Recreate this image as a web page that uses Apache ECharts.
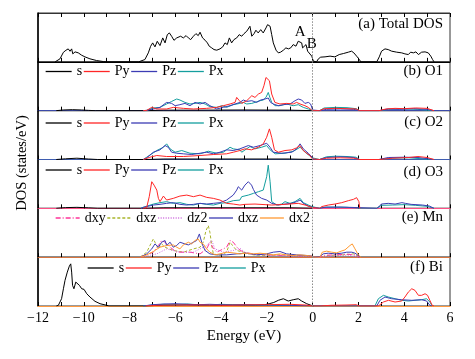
<!DOCTYPE html>
<html><head><meta charset="utf-8">
<script src="https://cdn.jsdelivr.net/npm/echarts@6/dist/echarts.min.js"></script>
<style>html,body{margin:0;padding:0;background:#fff}#c{width:475px;height:359px}</style>
</head><body><div id="c"></div>
<script>
// ---------- data (energy in eV, DOS in arbitrary states/eV units) ----------
const xTicks = [-12,-10,-8,-6,-4,-2,0,2,4,6];
const panelLabels = ['(a) Total DOS','(b) O1','(c) O2','(d) O3','(e) Mn','(f) Bi'];
const oLegend = ['s','Py','Pz','Px'];
const mnLegend = ['dxy','dxz','dz2','dxz ','dx2'];

const totalDOS = [[-11.25,0],[-11.18,0.3],[-11.04,3],[-10.89,9.6],[-10.78,11.6],[-10.68,13],[-10.6,10.6],[-10.53,13],[-10.48,8],[-10.38,10],[-10.24,9],[-10.09,6.6],[-9.95,5],[-9.73,3],[-9.44,1.3],[-9.15,0.3],[-9.0,0],
[-7.6,0],[-7.33,2.3],[-7.18,9],[-7.08,15.6],[-6.99,19],[-6.89,15],[-6.79,20.6],[-6.67,16.3],[-6.55,24],[-6.45,19],[-6.35,27.3],[-6.26,29],[-6.16,25.6],[-6.06,21.6],[-5.94,24],[-5.87,23],[-5.77,25.7],[-5.65,24],[-5.53,26.3],[-5.43,24],[-5.33,22.3],[-5.21,25.7],[-5.1,28.3],[-5.0,26.3],[-4.92,29.7],[-4.81,24],[-4.7,21.7],[-4.6,19],[-4.52,15.7],[-4.41,14],[-4.31,12.3],[-4.19,11.7],[-4.12,9.7],[-4.05,13],[-3.93,15],[-3.83,19],[-3.73,17.3],[-3.64,24],[-3.54,19],[-3.44,22.3],[-3.32,24],[-3.21,27.3],[-3.1,25.7],[-3.0,28.3],[-2.88,30.7],[-2.81,32.3],[-2.74,35.7],[-2.66,25.7],[-2.56,28.3],[-2.48,31.7],[-2.38,29],[-2.27,32.3],[-2.16,29],[-2.04,34],[-1.97,37.3],[-1.91,39],[-1.86,35.7],[-1.79,27.3],[-1.72,19],[-1.6,11.7],[-1.5,9],[-1.4,9.7],[-1.28,11.7],[-1.17,14],[-1.06,13],[-0.96,14],[-0.85,17.3],[-0.73,15.7],[-0.63,20.7],[-0.55,21.7],[-0.48,19],[-0.44,14],[-0.37,12.3],[-0.29,17.3],[-0.22,10.7],[-0.15,9],[-0.04,5.7],[0.03,0.7],[0.1,0],
[0.17,0],[0.25,3],[0.35,4.7],[0.54,5],[0.76,5.7],[0.97,5],[1.16,7.3],[1.34,8.3],[1.56,9.7],[1.7,10.7],[1.8,9],[1.92,5.7],[2.04,2.3],[2.1,0],[2.8,0],[2.91,5],[3.01,10.7],[3.16,13],[3.3,12.3],[3.45,10.7],[3.67,9.7],[3.89,9],[4.03,8],[4.18,7.3],[4.28,9.7],[4.4,9],[4.51,10],[4.62,7.3],[4.76,9.7],[4.91,10],[5.05,9],[5.16,5.7],[5.24,2.3],[5.3,0]];
const markA = [-0.55,30];
const markB = [-0.04,18];

// O1
const o1_s  = [[-11.2,0],[-10.9,0.7],[-10.5,1],[-10.1,0.7],[-9.8,0.3],[-9.5,0],[-7.3,0],[-6.5,0.5],[-5,0.5],[-3,0.7],[-1,0.5],[0,0]];
const o1_py = [[-7.4,0],[-7.25,0.3],[-7.03,3.3],[-6.82,1.7],[-6.38,1.7],[-6.09,3.3],[-5.65,2.3],[-5.21,1.7],[-4.63,2.3],[-4.19,3.3],[-3.9,5],[-3.61,6.7],[-3.39,8.3],[-3.32,13.3],[-3.2,10],[-3.1,7.3],[-2.88,10],[-2.66,15],[-2.52,13.3],[-2.37,16.7],[-2.23,18.3],[-2.13,25],[-2.04,33.3],[-1.98,35],[-1.89,30],[-1.79,16.7],[-1.65,8.3],[-1.43,6.7],[-1.14,7.3],[-0.85,6.7],[-0.7,8.3],[-0.55,6.7],[-0.34,5],[-0.19,3.3],[-0.05,0.7],[0.05,0],
[0.3,0],[0.5,2],[1.0,2.3],[1.5,2],[1.9,1.7],[2.05,0],[2.9,0],[3.2,1.7],[3.6,2.3],[4.0,2],[4.5,2.7],[5.0,2.3],[5.3,0]];
const o1_pz = [[-7.4,0],[-7.25,0.3],[-6.96,1.7],[-6.67,3.3],[-6.38,8.3],[-6.16,7.3],[-6.01,5],[-5.8,6],[-5.58,7.3],[-5.36,5],[-5.14,8.3],[-4.92,6.7],[-4.7,8.3],[-4.49,5],[-4.19,1.7],[-3.9,3.3],[-3.61,5],[-3.39,6.7],[-3.18,8.3],[-3.03,10.7],[-2.88,9.3],[-2.66,10],[-2.45,8.3],[-2.27,10.7],[-2.08,11.7],[-1.94,12.7],[-1.84,8.3],[-1.72,6.7],[-1.5,5],[-1.28,6],[-0.99,6.7],[-0.77,10],[-0.63,11.7],[-0.48,10.7],[-0.34,7.3],[-0.19,8.3],[-0.09,6.7],[0.0,0.7],[0.05,0],
[0.3,0],[0.6,1.3],[1.2,1.7],[1.8,1.3],[2.05,0],[2.9,0],[3.3,1.7],[3.8,1.3],[4.4,2],[5.0,1.3],[5.3,0]];
const o1_px = [[-7.4,0],[-7.25,0.3],[-6.96,2.7],[-6.67,3.3],[-6.38,6.7],[-6.16,9.3],[-5.94,11.7],[-5.8,10.7],[-5.58,8.3],[-5.36,6.7],[-5.14,7.3],[-4.92,8.3],[-4.7,6.7],[-4.49,4],[-4.19,3.3],[-3.97,5],[-3.76,3.3],[-3.47,6],[-3.18,7.3],[-3.03,8.3],[-2.88,6.7],[-2.66,7.3],[-2.52,8.3],[-2.3,10],[-2.16,10.7],[-2.04,13.3],[-1.94,18.3],[-1.87,13.3],[-1.79,8.3],[-1.65,5],[-1.43,5],[-1.14,6.7],[-0.85,5],[-0.63,6],[-0.41,3.3],[-0.19,1.7],[-0.05,0.7],[0.05,0],
[0.3,0],[0.5,2.7],[1.0,3.3],[1.5,3],[1.9,2],[2.05,0],[2.9,0],[3.3,1.3],[4.0,1.7],[4.6,1.3],[5.3,0]];

// O2
const o2_s  = [[-11.2,0],[-10.8,0.7],[-10.3,1.3],[-9.8,0.5],[-9.4,0],[-7.3,0],[-6.5,0.5],[-4,0.5],[-1,0.5],[0,0]];
const o2_py = [[-7.4,0],[-7.11,2.3],[-6.81,4],[-6.38,3],[-5.65,3],[-4.92,4],[-4.34,5],[-3.76,5.7],[-3.47,7.3],[-3.18,9],[-3.1,9.7],[-2.96,10.7],[-2.67,9.7],[-2.37,12.3],[-2.16,15.7],[-2.01,22.3],[-1.89,30.7],[-1.79,22.3],[-1.67,9.7],[-1.5,7.3],[-1.21,9],[-0.91,9.7],[-0.7,11.7],[-0.55,14],[-0.41,9],[-0.26,6.3],[-0.12,4],[-0.02,0.7],[0.05,0],
[0.3,0],[0.6,1.3],[1.2,1.7],[1.8,1.3],[2.05,0],[2.9,0],[3.5,1.3],[4.2,2],[4.6,3],[5.0,2],[5.3,0]];
const o2_pz = [[-7.4,0],[-7.25,1.7],[-6.96,7.3],[-6.67,9.7],[-6.45,14],[-6.31,12.3],[-6.16,7.3],[-5.94,6.3],[-5.65,5.7],[-5.28,5],[-4.92,6.3],[-4.63,7.3],[-4.34,5.7],[-4.05,7.3],[-3.76,9.7],[-3.47,9],[-3.18,10.7],[-3.1,9],[-2.81,14],[-2.59,12.3],[-2.3,14],[-2.01,16.3],[-1.86,12.3],[-1.72,7.3],[-1.35,6.3],[-0.91,7.3],[-0.7,10.7],[-0.55,15.7],[-0.41,10.7],[-0.19,6.3],[-0.02,2.3],[0.05,0],
[0.3,0],[0.6,2],[1.2,2.7],[1.8,2],[2.05,0],[2.9,0],[3.3,2],[4.0,2.3],[4.6,2],[5.3,0]];
const o2_px = [[-7.4,0],[-7.25,2.3],[-7.03,5.7],[-6.81,9],[-6.52,12.3],[-6.38,15.7],[-6.23,10.7],[-6.01,7.3],[-5.72,9],[-5.36,6.3],[-4.92,5.7],[-4.56,8.3],[-4.19,6.3],[-3.9,7.3],[-3.61,12.3],[-3.47,10.7],[-3.18,9.7],[-3.1,7.3],[-2.74,13],[-2.52,10.7],[-2.23,12.3],[-2.01,14],[-1.86,9.7],[-1.64,5.7],[-1.21,6.3],[-0.84,8.3],[-0.55,12.3],[-0.33,7.3],[-0.02,1.7],[0.05,0],
[0.3,0],[0.6,2.7],[1.0,3.3],[1.5,3],[1.9,2.3],[2.05,0],[2.9,0],[3.4,1.3],[4.2,1.7],[5.2,0]];

// O3
const o3_s  = [[-11.2,0],[-10.8,0.7],[-10.3,1],[-9.8,0.5],[-9.4,0],[-7.3,0],[-6.5,0.5],[-4,0.5],[-1,0.5],[0,0]];
const o3_py = [[-7.4,0],[-7.25,1],[-7.14,11.7],[-7.03,26.7],[-6.93,23.3],[-6.81,18.3],[-6.74,10],[-6.67,6.7],[-6.52,12.3],[-6.38,8.3],[-6.09,10],[-5.8,12.3],[-5.5,13.3],[-5.21,11.7],[-4.92,13.3],[-4.63,11],[-4.34,10],[-4.05,8.3],[-3.76,5],[-3.47,4.3],[-3.18,3.3],[-2.96,4],[-2.52,4.3],[-2.08,3.7],[-1.79,3.3],[-1.21,4],[-0.63,5],[-0.33,3.3],[-0.02,0.7],[0.05,0],
[0.3,0],[0.39,1.7],[0.68,3.3],[0.97,4.3],[1.27,5.7],[1.56,7.7],[1.78,9],[1.92,10.7],[2.02,6.7],[2.06,0]];
const o3_pz = [[-7.5,0],[-7.4,1],[-6.96,3.3],[-6.67,4],[-6.38,5],[-6.09,5.7],[-5.8,4],[-5.5,3.3],[-5.21,4],[-4.92,5],[-4.63,4.3],[-4.34,5],[-4.05,5.7],[-3.76,8.3],[-3.47,13.3],[-3.32,18.3],[-3.25,21.7],[-3.1,18.3],[-2.96,23.3],[-2.81,26.7],[-2.74,28.3],[-2.67,23.3],[-2.59,19],[-2.45,13.3],[-2.23,10],[-2.01,8.3],[-1.79,5],[-1.5,3.3],[-1.21,4.3],[-0.91,5],[-0.7,6.7],[-0.55,8.3],[-0.41,5],[-0.19,2.3],[-0.02,1],[0.05,0],
[0.3,0],[0.5,1],[1.2,1.3],[2.0,0.7],[2.05,0],[2.8,0],[2.9,1.7],[3.0,4.3],[3.3,5],[3.6,4.3],[3.9,5.7],[4.05,5],[4.3,4],[4.8,3.3],[5.1,2.3],[5.3,0]];
const o3_px = [[-7.5,0],[-7.4,1],[-6.96,4.3],[-6.67,5.7],[-6.38,6.7],[-6.09,5],[-5.8,5.7],[-5.5,4],[-5.21,3.3],[-4.92,5],[-4.63,4],[-4.34,3.3],[-4.05,5],[-3.76,5.7],[-3.47,7.7],[-3.18,8.3],[-3.1,11.7],[-2.81,13.3],[-2.59,15],[-2.37,16.7],[-2.16,18.3],[-2.01,31.7],[-1.94,43.3],[-1.86,26.7],[-1.79,6.7],[-1.57,3.3],[-1.35,4.3],[-1.21,6.7],[-0.99,5],[-0.77,6.7],[-0.55,10],[-0.41,5.7],[-0.19,3.3],[-0.02,1.7],[0.05,0],
[0.3,0],[0.6,1.3],[1.5,1],[2.05,0],[2.8,0],[3.0,3],[3.5,3.3],[4.0,3.7],[4.5,3],[5.0,2],[5.3,0]];

// Mn
const mn_dxy = [[-7.54,0],[-6.96,5],[-6.74,11.7],[-6.6,16.7],[-6.45,15],[-6.23,10],[-5.94,5],[-5.36,5],[-4.92,3.3],[-4.63,8.3],[-4.49,15],[-4.37,10],[-4.19,5],[-3.76,10],[-3.61,16.7],[-3.47,15],[-3.25,8.3],[-3.03,5],[-2.59,3.3],[-2.01,2.3],[-1.43,1.7],[-0.05,1],[0.05,0],
[0.3,0],[0.6,2],[1.0,2.3],[1.5,3],[1.9,2],[2.05,0]];
const mn_dxz = [[-7.54,0],[-7.25,5],[-7.11,11.7],[-6.96,18.3],[-6.89,15],[-6.74,8.3],[-6.6,13.3],[-6.45,10],[-6.09,6.7],[-5.65,5],[-5.21,8.3],[-4.92,10],[-4.78,15],[-4.66,26.7],[-4.56,31.7],[-4.49,25],[-4.41,11.7],[-4.34,3.3],[-4.05,1.7],[-3.76,5],[-3.61,15],[-3.5,11.7],[-3.32,6.7],[-3.03,5],[-2.59,2.3],[-2.01,1.7],[-1.43,2.3],[-0.85,1.7],[-0.05,1],[0.05,0],
[0.3,0],[0.7,1.7],[1.3,2.3],[1.8,3.3],[2.05,0]];
const mn_dz2 = [[-7.54,0],[-6.81,3.3],[-6.38,8.3],[-5.8,5],[-5.21,5],[-4.63,11.7],[-4.41,16.7],[-4.27,8.3],[-3.9,5],[-3.47,6.7],[-3.18,9],[-2.88,3.3],[-2.3,2.3],[-1.72,1.7],[-0.05,1],[0.05,0],
[0.3,0],[0.8,1.3],[1.6,2],[2.05,0]];
const mn_dxz2 = [[-7.54,0],[-7.25,3.3],[-7.03,8.3],[-6.89,13.3],[-6.74,10],[-6.6,15],[-6.45,16.7],[-6.38,11.7],[-6.23,15],[-6.09,10],[-5.94,11.7],[-5.8,15],[-5.58,13.3],[-5.43,12.3],[-5.21,15],[-5.07,16.7],[-4.95,23.3],[-4.89,18.3],[-4.81,12.3],[-4.7,6.7],[-4.49,3.3],[-4.19,2.3],[-3.76,2.3],[-3.32,3.3],[-2.88,4],[-2.45,2.3],[-2.01,3.3],[-1.72,5],[-1.43,5.7],[-1.14,3.3],[-0.7,2.3],[-0.27,1.7],[-0.05,1],[0.05,0],
[0.32,0.7],[0.46,3.3],[0.68,4],[0.97,3.3],[1.27,4],[1.49,5],[1.71,5],[1.85,4],[2.0,1.7],[2.06,0]];
const mn_dx2 = [[-7.54,0],[-7.25,2.3],[-6.96,5.7],[-6.67,10],[-6.38,11.7],[-6.09,12.3],[-5.94,10],[-5.8,8.3],[-5.65,12.3],[-5.43,15],[-5.29,13.3],[-5.14,16.7],[-5.0,18.3],[-4.92,15],[-4.78,13.3],[-4.63,8.3],[-4.49,5],[-4.27,2.3],[-4.05,3.3],[-3.76,5],[-3.47,4.3],[-3.18,3.3],[-2.88,4],[-2.59,3.3],[-2.3,4],[-2.01,3.3],[-1.72,2.3],[-1.43,3.3],[-1.14,2.3],[-0.85,1.7],[-0.55,2.3],[-0.27,1.7],[-0.05,1],[0.05,0],
[0.32,0],[0.42,5],[0.61,6],[0.83,5],[1.05,4.3],[1.24,6],[1.41,7.3],[1.63,11.7],[1.73,13.3],[1.85,8.3],[1.97,3.3],[2.06,0.7],[2.1,0]];

// Bi
const bi_s  = [[-11.2,0],[-11.11,0.7],[-10.97,7.3],[-10.89,17.3],[-10.82,25.7],[-10.72,34],[-10.63,40],[-10.57,42.3],[-10.53,34],[-10.49,20.7],[-10.43,17.3],[-10.35,24],[-10.28,22.3],[-10.19,20.7],[-10.09,17.3],[-9.99,16.7],[-9.87,12.3],[-9.73,9],[-9.51,4.7],[-9.29,2.3],[-9.0,0.7],[-8.9,0],
[-7.3,0],[-6.5,1],[-5.5,1.3],[-4.5,0.7],[-3.5,1],[-2.5,0.7],[-2.1,1.3],[-1.9,2.3],[-1.7,3.5],[-1.5,5.7],[-1.28,7.3],[-1.07,5],[-0.85,6.3],[-0.63,7.3],[-0.48,5],[-0.26,2.3],[-0.07,0.7],[0.05,0]];
const bi_py = [[-7.3,0],[-6.8,0.7],[-6,1],[-5,1],[-4,0.7],[-3,1],[-2,1.3],[-1,1.7],[-0.3,1],[0,0],
[0.3,0],[0.8,0.7],[1.5,1],[1.9,1.3],[2.05,0],[2.87,0],[3.09,4],[3.31,5.7],[3.6,4],[3.89,5],[4.03,9],[4.18,14],[4.33,17.3],[4.47,15.7],[4.62,10.7],[4.76,10.7],[4.91,12.3],[5.02,10.7],[5.12,5.7],[5.22,0.7],[5.3,0]];
const bi_pz = [[-7.4,0],[-7,1.3],[-6.5,2],[-6,2.3],[-5.5,1.7],[-5,1.3],[-4.5,1.7],[-4,1.3],[-3.5,1],[-3,1.3],[-2,1],[-1,0.7],[0,0],
[2.8,0],[2.94,5.7],[3.16,9],[3.45,7.3],[3.89,6.3],[4.33,5.7],[4.76,6.3],[4.98,5],[5.12,0.7],[5.2,0]];
const bi_px = [[-7.4,0],[-7,1],[-6.5,1.7],[-6,1.3],[-5.5,2],[-5,1.3],[-4.5,1],[-4,1.7],[-3.5,1.3],[-3,1],[-2,0.7],[0,0],
[2.72,0],[2.87,7.3],[3.09,10.7],[3.31,9],[3.6,7.3],[3.89,5.7],[4.18,5],[4.47,5.7],[4.76,6.3],[4.98,7.3],[5.12,4],[5.22,0]];

// ---------- chart ----------
const FONT = 'Liberation Serif';
const C = {s:'#000000', Py:'#ff2626', Pz:'#3c3cb4', Px:'#149e9e',
           dxy:'#ff3399', dxz:'#a9b52c', dz2:'#cc66dd', dxz2:'#3c3cb4', dx2:'#ff9a33'};
const baseColors = ['#000000','#3c4aa8','#3f5db0','#ff4f86','#d8743e','#ff9a40'];
const N = 6, TOP = 13, BOTTOM = 306, H = (BOTTOM - TOP) / N;
const LEFT = 38, RIGHT = 450, W = 475;

const grids = [], xAxes = [], yAxes = [], series = [];
for (let i = 0; i < N; i++) {
  grids.push({left: LEFT, right: W - RIGHT, top: TOP + i * H, height: H,
              show: true, borderColor: '#333', borderWidth: 1});
  const last = i === N - 1;
  xAxes.push({type: 'value', gridIndex: i, min: -12, max: 6, interval: 1,
    axisLine: {show: true, onZero: false, lineStyle: {color: baseColors[i], width: 1.2}},
    axisTick: {show: true, inside: true, length: 4, lineStyle: {color: '#000'}},
    splitLine: {show: false},
    axisLabel: {show: last, margin: 5, color: '#000', fontFamily: FONT, fontSize: 14,
      formatter: v => (xTicks.indexOf(v) < 0 ? '' : (v < 0 ? '\u2212' + (-v) : String(v)))},
    name: last ? 'Energy (eV)' : '', nameLocation: 'middle', nameGap: 23,
    nameTextStyle: {color: '#000', fontFamily: FONT, fontSize: 15}});
  yAxes.push({type: 'value', gridIndex: i, min: 0, max: 49,
    axisLine: {show: true, onZero: false, lineStyle: {color: '#000', width: 1.5}},
    axisTick: {show: false}, axisLabel: {show: false}, splitLine: {show: false}});
}
// top tick axis of panel (a)
xAxes.push({type: 'value', gridIndex: 0, position: 'top', min: -12, max: 6, interval: 1,
  axisLine: {show: true, onZero: false, lineStyle: {color: '#333'}},
  axisTick: {show: true, inside: true, length: 4, lineStyle: {color: '#000'}},
  axisLabel: {show: false}, splitLine: {show: false}});

function line(name, data, gi, color, dash, extra) {
  const s = {name, type: 'line', xAxisIndex: gi, yAxisIndex: gi, data,
    symbol: 'none', showSymbol: false, smooth: false, animation: false,
    lineStyle: {color, width: 1, type: dash || 'solid'}, itemStyle: {color, opacity: 0}};
  return Object.assign(s, extra || {});
}
const zeroLine = {silent: true, symbol: 'none', animation: false,
  label: {show: false}, lineStyle: {color: '#8c8c8c', type: [1.5, 1.5], width: 1},
  data: [{xAxis: 0}]};

series.push(line('Total', totalDOS, 0, '#000', null, {
  markLine: zeroLine,
  markPoint: {symbol: 'circle', symbolSize: 1, itemStyle: {color: 'rgba(0,0,0,0)'},
    label: {show: true, position: 'inside', color: '#000', fontFamily: FONT, fontSize: 15,
      formatter: p => p.name},
    data: [{name: 'A', coord: markA}, {name: 'B', coord: markB}]}}));

const oPanels = [[o1_s, o1_py, o1_pz, o1_px], [o2_s, o2_py, o2_pz, o2_px], [o3_s, o3_py, o3_pz, o3_px]];
oPanels.forEach((p, k) => {
  const gi = k + 1;
  series.push(line('s', p[0], gi, C.s, null, {markLine: zeroLine}));
  series.push(line('Px', p[3], gi, C.Px));
  series.push(line('Pz', p[2], gi, C.Pz));
  series.push(line('Py', p[1], gi, C.Py));
});
series.push(line('dxz', mn_dxz, 4, C.dxz, [3, 2], {markLine: zeroLine}));
series.push(line('dxy', mn_dxy, 4, C.dxy, [5, 2, 1, 2]));
series.push(line('dz2', mn_dz2, 4, C.dz2, [1, 1.5]));
series.push(line('dxz ', mn_dxz2, 4, C.dxz2));
series.push(line('dx2', mn_dx2, 4, C.dx2));
series.push(line('s', bi_s, 5, C.s, null, {markLine: zeroLine}));
series.push(line('Px', bi_px, 5, C.Px));
series.push(line('Pz', bi_pz, 5, C.Pz));
series.push(line('Py', bi_py, 5, C.Py));

const legText = {fontFamily: FONT, fontSize: 14, color: '#000'};
function legend(data, left, cy, iw, gap) {
  return {data, left, top: cy - 7, itemWidth: iw, itemHeight: 14, itemGap: gap, padding: 0,
    selectedMode: false, textStyle: legText, formatter: n => n.trim(),
    itemStyle: {opacity: 0}, lineStyle: {width: 1.3}};
}
const legends = [
  legend(oLegend, 45, 71.5, 26, 1),
  legend(oLegend, 45, 123, 26, 1),
  legend(oLegend, 45, 170, 26, 1),
  legend(mnLegend, 55, 218, 24, 1),
  legend(oLegend, 87, 268, 26, 1)
];

const labelY = [25, 71.5, 123, 172.5, 218, 268];
const graphics = panelLabels.map((t, i) => ({type: 'text', right: W - 443, top: labelY[i] - 8,
  style: {text: t, fill: '#000', font: '15px "' + FONT + '"'}}));
graphics.push({type: 'text', x: 22, y: 163, rotation: Math.PI / 2,
  style: {text: 'DOS (states/eV)', fill: '#000', font: '14.5px "' + FONT + '"',
          textAlign: 'center', textVerticalAlign: 'middle'}});

const chart = echarts.init(document.getElementById('c'), null, {renderer: 'canvas'});
chart.setOption({animation: false, backgroundColor: '#fff',
  grid: grids, xAxis: xAxes, yAxis: yAxes, series, legend: legends, graphic: graphics});
</script></body></html>
